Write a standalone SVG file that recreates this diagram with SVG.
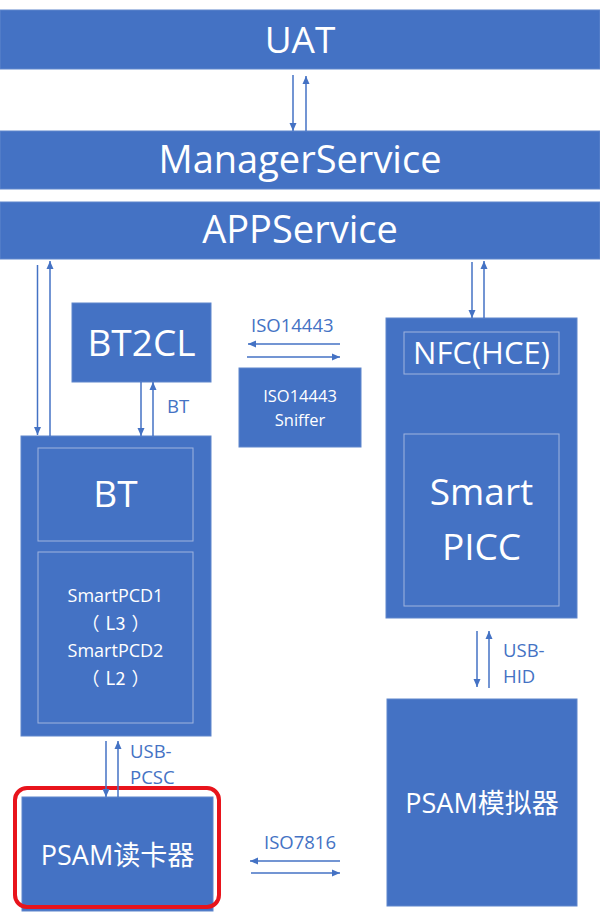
<svg xmlns="http://www.w3.org/2000/svg" width="600" height="913" viewBox="0 0 600 913">
<style>
.box{fill:#4472c4;stroke:#5f86cc;stroke-width:1}
.inner{fill:none;stroke:#9fb4de;stroke-width:1}
.t{font-family:"Open Sans","Noto Sans CJK SC",sans-serif;fill:#ffffff;text-anchor:middle}
.cjk{font-family:"Noto Sans CJK SC",sans-serif}
.lbl{font-family:"Open Sans","Noto Sans CJK SC",sans-serif;fill:#4472c4;font-size:18.5px}
.c{stroke:#4472c4;stroke-width:1.5;fill:none;marker-end:url(#ah)}
</style>
<defs>
<marker id="ah" markerUnits="userSpaceOnUse" markerWidth="9" markerHeight="9" refX="8" refY="4" orient="auto">
<path d="M0,0.5 L8,4 L0,7.5 z" fill="#4472c4"/>
</marker>
</defs>
<rect width="600" height="913" fill="#ffffff"/>
<g id="uat">
<rect class="box" x="0" y="10" width="600" height="59"/>
<text class="t" x="300" y="53" font-size="37">UAT</text>
</g>
<g id="managerservice">
<rect class="box" x="0" y="131" width="600" height="58"/>
<text class="t" x="300" y="173" font-size="38">ManagerService</text>
</g>
<g id="appservice">
<rect class="box" x="0" y="202" width="600" height="57"/>
<text class="t" x="300" y="243" font-size="38">APPService</text>
</g>
<g id="bt2cl">
<rect class="box" x="72" y="303" width="139" height="79"/>
<text class="t" x="141.5" y="356" font-size="37">BT2CL</text>
</g>
<g id="sniffer">
<rect class="box" x="239" y="368" width="122" height="79"/>
<text class="t" x="300" y="402" font-size="16.5">ISO14443</text>
<text class="t" x="300" y="426" font-size="16.5">Sniffer</text>
</g>
<g id="nfc">
<rect class="box" x="386" y="318" width="191" height="300"/>
<rect class="inner" x="404" y="332" width="155" height="42"/>
<text class="t" x="481.5" y="364" font-size="31">NFC(HCE)</text>
<rect class="inner" x="404" y="434" width="155" height="172"/>
<text class="t" x="481.5" y="505" font-size="37">Smart</text>
<text class="t" x="481.5" y="560" font-size="37">PICC</text>
</g>
<g id="bt">
<rect class="box" x="21" y="436" width="190" height="300"/>
<rect class="inner" x="38" y="448" width="155" height="93"/>
<text class="t" x="115.5" y="507" font-size="37">BT</text>
<rect class="inner" x="38" y="552" width="155" height="171"/>
<text class="t" x="115.5" y="602" font-size="18">SmartPCD1</text>
<text class="t cjk" x="115.5" y="630" font-size="18">（<tspan dx="6">L3</tspan><tspan dx="6">）</tspan></text>
<text class="t" x="115.5" y="657" font-size="18">SmartPCD2</text>
<text class="t cjk" x="115.5" y="685" font-size="18">（<tspan dx="6">L2</tspan><tspan dx="6">）</tspan></text>
</g>
<g id="psam-reader">
<rect class="box" x="22" y="797" width="191" height="114"/>
<rect x="15" y="788" width="204" height="119" rx="12" fill="none" stroke="#e8141c" stroke-width="4"/>
<text class="t" x="117.5" y="865" font-size="27">PSAM读卡器</text>
</g>
<g id="psam-sim">
<rect class="box" x="387" y="699" width="190" height="207"/>
<text class="t" x="482" y="813" font-size="27">PSAM模拟器</text>
</g>
<g id="connectors">
<line class="c" x1="293" y1="75" x2="293" y2="131"/>
<line class="c" x1="306" y1="131" x2="306" y2="76"/>
<line class="c" x1="37.5" y1="265" x2="37.5" y2="435"/>
<line class="c" x1="50" y1="436" x2="50" y2="261"/>
<line class="c" x1="141" y1="382" x2="141" y2="436"/>
<line class="c" x1="153" y1="436" x2="153" y2="382"/>
<line class="c" x1="472" y1="262" x2="472" y2="318"/>
<line class="c" x1="484" y1="318" x2="484" y2="261"/>
<line class="c" x1="340" y1="344" x2="248" y2="344"/>
<line class="c" x1="247" y1="357" x2="340" y2="357"/>
<line class="c" x1="106" y1="741" x2="106" y2="797"/>
<line class="c" x1="118" y1="797" x2="118" y2="741"/>
<line class="c" x1="477" y1="631" x2="477" y2="687"/>
<line class="c" x1="489" y1="688" x2="489" y2="631"/>
<line class="c" x1="340" y1="861" x2="250" y2="861"/>
<line class="c" x1="251" y1="873" x2="340" y2="873"/>
</g>
<g id="labels">
<text class="lbl" x="251" y="332">ISO14443</text>
<text class="lbl" x="167" y="413">BT</text>
<text class="lbl" x="130" y="758">USB-</text>
<text class="lbl" x="130" y="784">PCSC</text>
<text class="lbl" x="503" y="657">USB-</text>
<text class="lbl" x="503" y="683">HID</text>
<text class="lbl" x="264" y="849">ISO7816</text>
</g>
</svg>
